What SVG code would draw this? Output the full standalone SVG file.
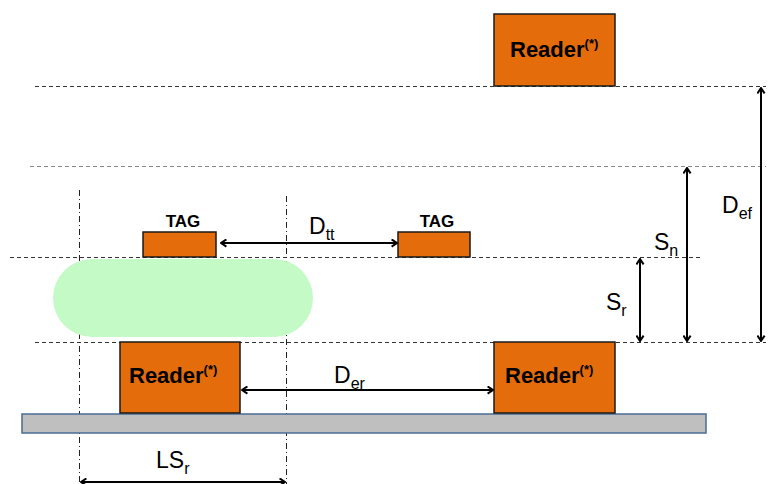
<svg xmlns="http://www.w3.org/2000/svg" width="768" height="484" viewBox="0 0 768 484">
<style>
.rd{fill:#E46C0A;stroke:#1a1a1a;stroke-width:1.5}
.rt{font-family:"Liberation Sans",Arial,sans-serif;font-weight:bold;font-size:22px;fill:#000}
.sup{font-size:13px}
.tg{font-family:"Liberation Sans",Arial,sans-serif;font-weight:bold;font-size:17px;fill:#000}
.lb{font-family:"Liberation Sans",Arial,sans-serif;font-size:23px;fill:#000}
.sb{font-size:16px}
.dd{stroke:#333;stroke-width:1;stroke-dasharray:4,3;fill:none}
.dl{stroke:#888;stroke-width:1;stroke-dasharray:4,3;fill:none}
.dc{stroke:#222;stroke-width:1;stroke-dasharray:6,3,1,3;fill:none}
.ar{stroke:#000;stroke-width:2;fill:none;marker-start:url(#ah);marker-end:url(#ah)}
</style>
<defs>
<marker id="ah" viewBox="0 0 10 10" refX="9" refY="5" markerWidth="9" markerHeight="9" orient="auto-start-reverse" markerUnits="userSpaceOnUse">
<polyline points="3,1 9,5 3,9" fill="none" stroke="#000" stroke-width="2.2"/>
</marker>
</defs>
<g id="guides">
<line class="dd" x1="35" y1="86.5" x2="766" y2="86.5"/>
<line class="dl" x1="30" y1="166.5" x2="766" y2="166.5"/>
<line class="dd" x1="10" y1="257.5" x2="700" y2="257.5"/>
<line class="dd" x1="35" y1="342.5" x2="766" y2="342.5"/>
<line class="dc" x1="79.5" y1="190" x2="79.5" y2="484"/>
<line class="dc" x1="286.5" y1="196" x2="286.5" y2="484"/>
</g>
<g id="bar"><rect x="22" y="414" width="684" height="19" fill="#BFBFBF" stroke="#4A6E96" stroke-width="1.5"/></g>
<g id="object"><rect x="53" y="259" width="260" height="78" rx="39" ry="39" fill="#C4FAC6"/></g>
<g id="reader-top"><rect class="rd" x="494" y="14" width="121" height="72"/><text class="rt" x="510" y="57">Reader<tspan class="sup" dy="-9">(*)</tspan></text></g>
<g id="reader-left"><rect class="rd" x="120" y="342" width="120" height="71"/><text class="rt" x="129" y="383">Reader<tspan class="sup" dy="-9">(*)</tspan></text></g>
<g id="reader-right"><rect class="rd" x="494" y="342" width="121" height="71"/><text class="rt" x="505" y="383">Reader<tspan class="sup" dy="-9">(*)</tspan></text></g>
<g id="tag-left"><rect class="rd" x="143" y="232" width="73" height="25"/><text class="tg" x="183" y="227" text-anchor="middle">TAG</text></g>
<g id="tag-right"><rect class="rd" x="398" y="232" width="72" height="25"/><text class="tg" x="437" y="227" text-anchor="middle">TAG</text></g>
<g id="connectors">
<line class="ar" x1="221" y1="243" x2="397" y2="243"/>
<line class="ar" x1="242" y1="390" x2="493" y2="390"/>
<line class="ar" x1="81" y1="482" x2="285" y2="482"/>
<line class="ar" x1="640" y1="259" x2="640" y2="341"/>
<line class="ar" x1="687" y1="168" x2="687" y2="341"/>
<line class="ar" x1="761" y1="88" x2="761" y2="341"/>
</g>
<g id="labels">
<text class="lb" x="309" y="234">D<tspan class="sb" dy="6">tt</tspan></text>
<text class="lb" x="334" y="383">D<tspan class="sb" dy="6">er</tspan></text>
<text class="lb" x="156" y="468">LS<tspan class="sb" dy="6">r</tspan></text>
<text class="lb" x="606" y="310">S<tspan class="sb" dy="6">r</tspan></text>
<text class="lb" x="654" y="250">S<tspan class="sb" dy="6">n</tspan></text>
<text class="lb" x="722" y="213">D<tspan class="sb" dy="6">ef</tspan></text>
</g>
</svg>
